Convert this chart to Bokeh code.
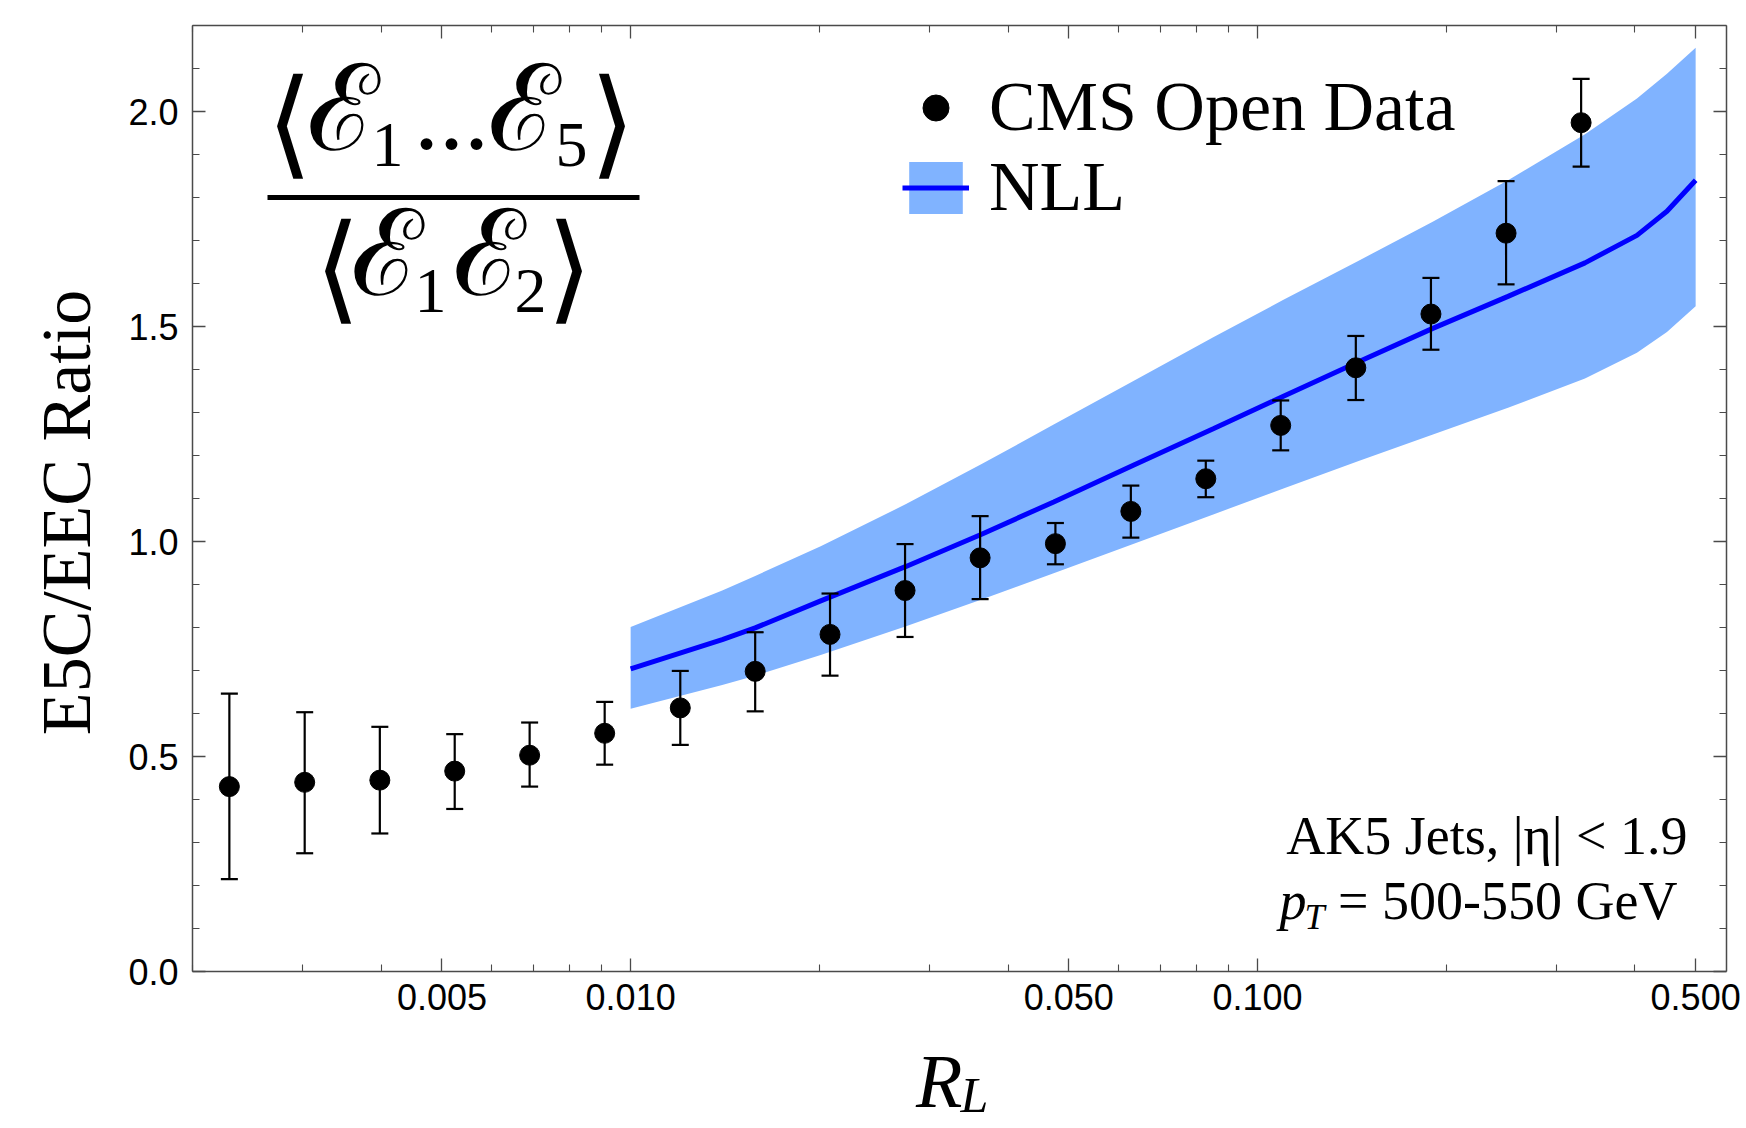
import math
from bokeh.plotting import figure
from bokeh.models import (ColumnDataSource, Whisker, TeeHead, Legend, LegendItem,
                          LogAxis, LinearAxis, FixedTicker, NumeralTickFormatter,
                          CustomJSTickFormatter, Label, BoxAnnotation, Range1d)
from bokeh.embed import file_html
from bokeh.resources import INLINE

# ---------------- data ----------------
r_l = [0.00229, 0.00302, 0.00398, 0.00524, 0.00690, 0.00909, 0.0120, 0.0158,
       0.0208, 0.0274, 0.0361, 0.0476, 0.0628, 0.0827, 0.1089, 0.1435, 0.1891,
       0.2492, 0.3283]
ratio = [0.430, 0.440, 0.445, 0.466, 0.503, 0.554, 0.613, 0.698, 0.784, 0.886,
         0.962, 0.995, 1.070, 1.146, 1.270, 1.404, 1.529, 1.717, 1.974]
ratio_hi = [0.646, 0.603, 0.569, 0.552, 0.579, 0.627, 0.699, 0.789, 0.879, 0.994,
            1.059, 1.043, 1.130, 1.188, 1.328, 1.478, 1.613, 1.838, 2.076]
ratio_lo = [0.215, 0.275, 0.321, 0.378, 0.430, 0.481, 0.527, 0.605, 0.688, 0.778,
            0.866, 0.947, 1.009, 1.103, 1.212, 1.329, 1.446, 1.598, 1.872]

nll_x = [0.0100, 0.0140, 0.0158, 0.0201, 0.0275, 0.0363, 0.0473, 0.0635, 0.0850,
         0.110, 0.145, 0.190, 0.251, 0.333, 0.403, 0.450, 0.500]
nll_mid = [0.704, 0.772, 0.799, 0.862, 0.942, 1.017, 1.092, 1.178, 1.262, 1.338,
           1.418, 1.495, 1.570, 1.648, 1.712, 1.768, 1.840]
nll_hi = [0.801, 0.886, 0.920, 0.989, 1.087, 1.180, 1.272, 1.374, 1.475, 1.562,
          1.653, 1.743, 1.840, 1.947, 2.030, 2.088, 2.148]
nll_lo = [0.611, 0.666, 0.688, 0.736, 0.803, 0.865, 0.926, 0.995, 1.063, 1.123,
          1.187, 1.248, 1.311, 1.379, 1.439, 1.487, 1.547]

x_major = [0.005, 0.01, 0.05, 0.1, 0.5]
x_minor = [0.002, 0.003, 0.004, 0.006, 0.007, 0.008, 0.009, 0.02, 0.03, 0.04,
           0.06, 0.07, 0.08, 0.09, 0.2, 0.3, 0.4]
y_major = [0.0, 0.5, 1.0, 1.5, 2.0]
y_minor = [0.1, 0.2, 0.3, 0.4, 0.6, 0.7, 0.8, 0.9, 1.1, 1.2, 1.3, 1.4, 1.6, 1.7,
           1.8, 1.9, 2.1, 2.2]

X_MIN, X_MAX = 0.002, 0.56      # axes box limits
Y_MIN, Y_MAX = 0.0, 2.2

# --------- page geometry (pixels) ---------
# The plotting frame covers the whole page; the axes are fixed at the box edges.
W, H = 1746, 1128
FL, FR, FT, FB = 192.0, 1726.0, 25.0, 971.0       # axes box on the page
LX0, LX1 = math.log10(X_MIN), math.log10(X_MAX)
DEC_PER_PX = (LX1 - LX0) / (FR - FL)
UNIT_PER_PX = (Y_MAX - Y_MIN) / (FB - FT)
X_LO = 10 ** (LX0 - FL * DEC_PER_PX)
X_HI = 10 ** (LX1 + (W - FR) * DEC_PER_PX)
Y_LO = Y_MIN - (H - FB) * UNIT_PER_PX
Y_HI = Y_MAX + FT * UNIT_PER_PX
K = 0.36   # baseline offset of bokeh text (fraction of font size)


def dx(px):
    return 10 ** (LX0 + (px - FL) * DEC_PER_PX)


def dy(py):
    return Y_MIN + (FB - py) * UNIT_PER_PX


def base(py, size):
    return dy(py - K * size)


SERIF = "Liberation Serif"
SANS = "Liberation Sans"
FRAME = "#4a4a4a"

p = figure(width=W, height=H, x_axis_type="log",
           x_range=Range1d(X_LO, X_HI), y_range=Range1d(Y_LO, Y_HI),
           output_backend="svg", toolbar_location=None,
           min_border_left=0, min_border_right=0, min_border_top=0,
           min_border_bottom=0)
p.background_fill_color = "white"
p.border_fill_color = "white"
p.outline_line_color = None
p.xgrid.visible = False
p.ygrid.visible = False

# band + central line
band_src = ColumnDataSource(dict(x=nll_x, mid=nll_mid, hi=nll_hi, lo=nll_lo))
band = p.varea(x="x", y1="lo", y2="hi", source=band_src, fill_color="#80b3ff",
               fill_alpha=1.0)
line = p.line(x="x", y="mid", source=band_src, line_color="#0000ff", line_width=5)

# data points with error bars
pts_src = ColumnDataSource(dict(x=r_l, y=ratio, hi=ratio_hi, lo=ratio_lo))
wh = Whisker(base="x", upper="hi", lower="lo", source=pts_src,
             line_color="black", line_width=2.2,
             upper_head=TeeHead(size=17, line_width=2.2, line_color="black"),
             lower_head=TeeHead(size=17, line_width=2.2, line_color="black"))
wh.level = "annotation"
p.add_layout(wh)
pts = p.scatter(x="x", y="y", source=pts_src, size=20, fill_color="black",
                line_color="black")


def style_axis(ax):
    ax.axis_line_color = FRAME
    ax.axis_line_width = 1.5
    ax.major_tick_line_color = FRAME
    ax.minor_tick_line_color = FRAME
    ax.major_tick_line_width = 1.3
    ax.minor_tick_line_width = 1.1
    ax.major_tick_in = 13
    ax.major_tick_out = 0
    ax.minor_tick_in = 7
    ax.minor_tick_out = 0


# ---------------- axes (fixed on the box edges) ----------------
xa = p.xaxis[0]
xa.ticker = FixedTicker(ticks=x_major, minor_ticks=x_minor)
xa.formatter = NumeralTickFormatter(format="0.000")
xa.fixed_location = Y_MIN
xa.bounds = (X_MIN, X_MAX)
ya = p.yaxis[0]
ya.ticker = FixedTicker(ticks=y_major, minor_ticks=y_minor)
ya.formatter = NumeralTickFormatter(format="0.0")
ya.fixed_location = X_MIN
ya.bounds = (Y_MIN, Y_MAX)

for ax in (xa, ya):
    style_axis(ax)
    ax.major_label_text_font = SANS
    ax.major_label_text_font_size = "36px"
    ax.major_label_text_color = "black"
xa.major_label_standoff = 12
ya.major_label_standoff = 14

blank = CustomJSTickFormatter(code="return ''")
top_ax = LogAxis(ticker=FixedTicker(ticks=x_major, minor_ticks=x_minor),
                 formatter=blank, major_label_standoff=0,
                 fixed_location=Y_MAX, bounds=(X_MIN, X_MAX))
right_ax = LinearAxis(ticker=FixedTicker(ticks=y_major, minor_ticks=y_minor),
                      formatter=blank, major_label_standoff=0,
                      fixed_location=X_MAX, bounds=(Y_MIN, Y_MAX))
style_axis(top_ax)
style_axis(right_ax)
p.add_layout(top_ax, "above")
p.add_layout(right_ax, "right")

# y axis title (rotated text)
p.add_layout(Label(x=dx(91 - K * 70), y=dy(512), text="E5C/EEC Ratio",
                   angle=math.pi / 2, text_align="center",
                   text_baseline="alphabetic", text_font=SERIF,
                   text_font_size="70px", text_color="black"))

# x axis title R_L (R with subscript L)
p.add_layout(Label(x=dx(962), y=base(1108, 76), text="R", text_align="right",
                   text_baseline="alphabetic", text_font=SERIF,
                   text_font_style="italic", text_font_size="76px",
                   text_color="black"))
p.add_layout(Label(x=dx(960), y=base(1112, 50), text="L", text_align="left",
                   text_baseline="alphabetic", text_font=SERIF,
                   text_font_style="italic", text_font_size="50px",
                   text_color="black"))

# ---------------- legend ----------------
legend = Legend(items=[LegendItem(label="CMS Open Data", renderers=[pts]),
                       LegendItem(label="NLL", renderers=[band, line])],
                location=(902, int(H - 227)), orientation="vertical")
legend.padding = 0
legend.margin = 0
legend.spacing = 0
legend.glyph_width = 67
legend.glyph_height = 65
legend.label_standoff = 20
legend.label_text_font = SERIF
legend.label_text_font_size = "70px"
legend.label_text_color = "black"
legend.border_line_color = None
legend.background_fill_alpha = 0.0
p.add_layout(legend)


# ---------------- formula <E1...E5>/<E1E2> ----------------
def piece(text, cx, y, size, font):
    p.add_layout(Label(x=dx(cx), y=dy(y), text=text, text_align="center",
                       text_baseline="alphabetic", text_font=font,
                       text_font_size=f"{size}px", text_color="black"))


MATH = "DejaVu Serif"
# numerator
piece("⟨", 289, 121, 118, MATH)
piece("ℰ", 342, 108, 120, MATH)
piece("1", 387, 144, 64, SERIF)
piece("...", 451, 116, 100, SERIF)
piece("ℰ", 523, 108, 120, MATH)
piece("5", 571, 144, 64, SERIF)
piece("⟩", 612, 121, 118, MATH)
# denominator
piece("⟨", 337, 266, 118, MATH)
piece("ℰ", 386, 253, 120, MATH)
piece("1", 430, 290, 64, SERIF)
piece("ℰ", 488, 253, 120, MATH)
piece("2", 530, 290, 64, SERIF)
piece("⟩", 569, 266, 118, MATH)
p.add_layout(BoxAnnotation(left=dx(267), right=dx(639), top=dy(194.5),
                           bottom=dy(199.5), fill_color="black", fill_alpha=1.0,
                           line_color=None))

# ---------------- annotation text ----------------
p.add_layout(Label(x=dx(1687), y=base(855, 54), text="AK5 Jets, |η| < 1.9",
                   text_align="right", text_baseline="alphabetic",
                   text_font=SERIF, text_font_size="54px", text_color="black"))
p.add_layout(Label(x=dx(1677), y=base(920, 54), text="= 500-550 GeV",
                   text_align="right", text_baseline="alphabetic",
                   text_font=SERIF, text_font_size="54px", text_color="black"))
p.add_layout(Label(x=dx(1306), y=base(920, 54), text="p", text_align="right",
                   text_baseline="alphabetic", text_font=SERIF,
                   text_font_style="italic", text_font_size="54px",
                   text_color="black"))
p.add_layout(Label(x=dx(1304), y=base(929, 36), text="T", text_align="left",
                   text_baseline="alphabetic", text_font=SERIF,
                   text_font_style="italic", text_font_size="36px",
                   text_color="black"))

open("out.html", "w").write(file_html(p, INLINE))
